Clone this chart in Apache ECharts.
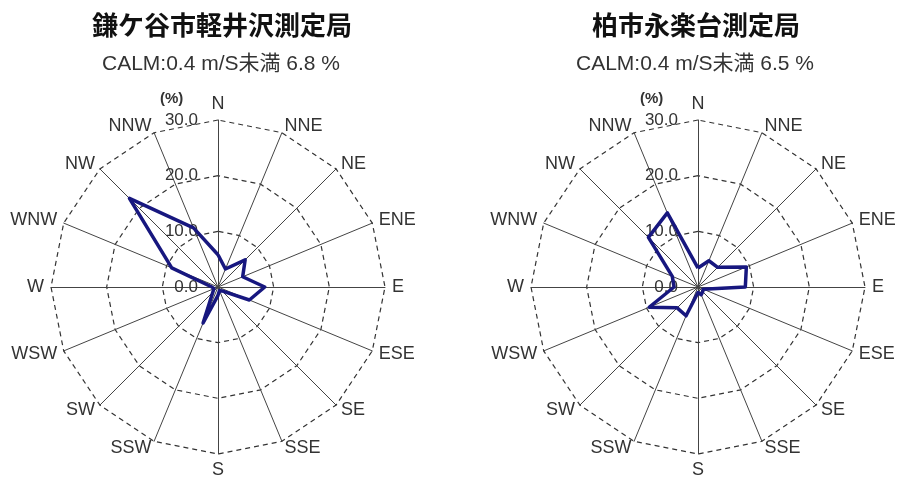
<!DOCTYPE html>
<html>
<head>
<meta charset="utf-8">
<script src="https://cdn.jsdelivr.net/npm/echarts@6/dist/echarts.min.js"></script>
<style>
  html, body { margin: 0; padding: 0; background: #fff; }
  #chart { width: 898px; height: 477px; }
</style>
</head>
<body>
<div id="chart"></div>
<script>
// Wind direction frequency (%) by 16 compass points, clockwise from N
const directions = ['N', 'NNE', 'NE', 'ENE', 'E', 'ESE', 'SE', 'SSE', 'S', 'SSW', 'SW', 'WSW', 'W', 'WNW', 'NW', 'NNW'];
const kamagayaValues = [5.8, 3.5, 6.9, 4.8, 8.4, 6.1, 1.0, 0.7, 1.5, 7.0, 1.3, 0.8, 1.1, 9.0, 22.5, 11.5];
const kashiwaValues = [3.4, 5.1, 5.0, 9.4, 8.5, 1.0, 1.2, 1.5, 1.0, 5.6, 5.3, 9.5, 4.3, 5.0, 12.6, 14.4];
const stationNames = ['鎌ケ谷市軽井沢測定局', '柏市永楽台測定局'];
const calmRates = [6.8, 6.5];
const radialMax = 30;
const radialSplits = 3;
const unitLabel = '(%)';

const FONT = '"Liberation Sans", Arial, "Noto Sans CJK JP", sans-serif';
const LINE_COLOR = '#17177f';

// radar lays indicators out counter-clockwise; walk the compass backwards
const ccwOrder = directions.map((_, i) => (directions.length - i) % directions.length);

const centers = [[218, 287], [698, 287]];
const titleX = [217, 691];

function buildRadar(center) {
  return {
    center: center,
    radius: 167,
    startAngle: 90,
    shape: 'polygon',
    splitNumber: radialSplits,
    indicator: ccwOrder.map((k, j) => {
      const ind = { name: directions[k], min: 0, max: radialMax };
      if (j === 0) ind.axisLabel = { show: true };
      return ind;
    }),
    axisName: { color: '#333', fontSize: 18, fontFamily: FONT },
    nameGap: 7,
    axisLine: { lineStyle: { color: '#444', width: 1 } },
    axisTick: { show: false },
    axisLabel: {
      show: false,
      color: '#333',
      fontSize: 17,
      fontFamily: FONT,
      margin: 20,
      formatter: v => Number(v).toFixed(1)
    },
    splitLine: { lineStyle: { color: '#333', type: [5, 4], width: 1.2 } },
    splitArea: { show: false }
  };
}

const titles = [];
stationNames.forEach((name, i) => {
  titles.push({
    text: name, left: titleX[i], top: 10, textAlign: 'center',
    textStyle: { fontSize: 26, fontWeight: 'bold', color: '#111', fontFamily: FONT }
  });
  titles.push({
    text: 'CALM:0.4 m/S未満 ' + calmRates[i].toFixed(1) + ' %', left: titleX[i] - 1, top: 49, textAlign: 'center',
    textStyle: { fontSize: 21, fontWeight: 'normal', color: '#333', fontFamily: FONT }
  });
});

const chart = echarts.init(document.getElementById('chart'), null, { renderer: 'canvas' });
chart.setOption({
  backgroundColor: '#fff',
  animation: false,
  title: titles,
  radar: centers.map(buildRadar),
  graphic: centers.map(c => ({
    type: 'text',
    left: c[0] - 58,
    top: c[1] - 196,
    style: { text: unitLabel, fontSize: 15, fontWeight: 'bold', fill: '#333', font: 'bold 15px ' + FONT }
  })),
  series: [kamagayaValues, kashiwaValues].map((vals, i) => ({
    type: 'radar',
    radarIndex: i,
    symbol: 'none',
    lineStyle: { color: LINE_COLOR, width: 3.5 },
    data: [{ value: ccwOrder.map(k => vals[k]), name: stationNames[i] }]
  }))
});
</script>
</body>
</html>
